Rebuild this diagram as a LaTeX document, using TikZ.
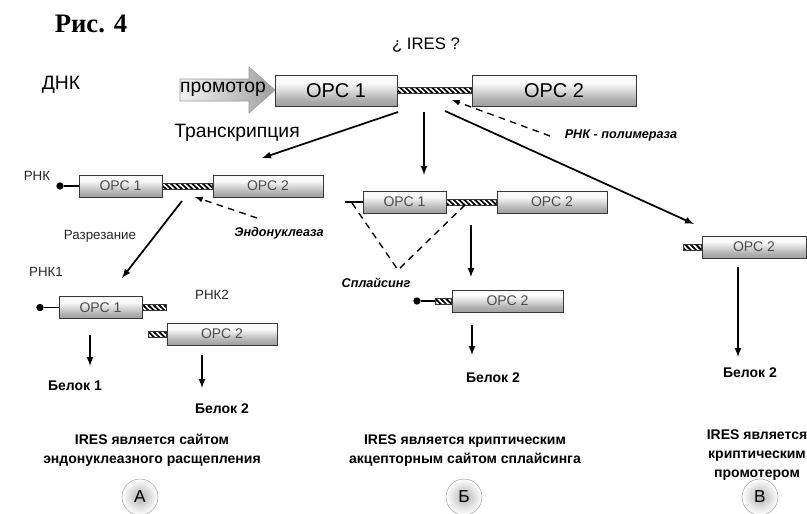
\documentclass[tikz,border=0pt]{standalone}
\usepackage{fontspec}
\setmainfont{Liberation Sans}
\newfontfamily\serifbold{Liberation Serif}
\usepackage{tikz}
\usetikzlibrary{calc}
\usetikzlibrary{arrows}
\usetikzlibrary{patterns}
\usetikzlibrary{positioning}
\usepackage{color}
\definecolor{boxedge}{RGB}{55, 55, 55}
\definecolor{boxdark}{RGB}{120, 120, 120}
\definecolor{boxmid}{RGB}{175, 175, 175}
\definecolor{boxlight}{RGB}{250, 250, 250}
\definecolor{labelgray}{RGB}{75, 75, 75}

% cylinder-like shading of the reading frames
\pgfdeclareverticalshading{orfshade}{100bp}{
  color(0bp)=(boxdark); color(35bp)=(boxmid); color(62bp)=(boxlight);
  color(72bp)=(boxlight); color(100bp)=(boxmid)}

% diagonal hatching of the IRES linker
\pgfdeclarepatternformonly{linkhatch}{\pgfpoint{-1pt}{-1pt}}{\pgfpoint{5pt}{5pt}}{\pgfpoint{4pt}{4pt}}{
  \pgfsetlinewidth{1.3pt}
  \pgfpathmoveto{\pgfpoint{-1pt}{5pt}}
  \pgfpathlineto{\pgfpoint{5pt}{-1pt}}
  \pgfusepath{stroke}
}

\tikzset{
  orfbig/.style   = {rectangle, draw=boxedge, inner sep=0pt, minimum height=23.25pt,
                     shading=orfshade, font=\fontsize{15}{18}\selectfont},
  orfsmall/.style = {rectangle, draw=boxedge, inner sep=0pt, minimum height=16.5pt,
                     shading=orfshade, text=labelgray, font=\fontsize{10.5}{12}\selectfont},
  linker/.style   = {draw=boxedge, line width=0.5pt, preaction={fill=white}, pattern=linkhatch},
  capdot/.style   = {circle, fill=black, inner sep=0pt, minimum size=5.5pt},
  capline/.style  = {line width=1.3pt},
  mainarrow/.style= {-latex, line width=1.3pt},
  dasharrow/.style= {-latex, line width=1pt, dash pattern=on 5pt off 4pt},
  splice/.style   = {line width=1pt, dash pattern=on 5pt off 4pt},
  bigtext/.style  = {inner sep=0pt, font=\fontsize{14.5}{17}\selectfont},
  smalltext/.style= {inner sep=0pt, text=black!85, font=\fontsize{10}{12}\selectfont},
  enzyme/.style   = {inner sep=0pt, font=\fontsize{9.5}{12}\selectfont\bfseries\itshape},
  protein/.style  = {inner sep=0pt, font=\fontsize{10.5}{12}\selectfont\bfseries},
  note/.style     = {inner sep=0pt, align=center, font=\fontsize{10.5}{14.25}\selectfont\bfseries},
  ball/.style     = {circle, draw=gray!70, inner sep=0pt, minimum size=27pt,
                     inner color=gray!60, outer color=white, font=\fontsize{13}{15}\selectfont}
}

\begin{document}
\begin{tikzpicture}[x=0.75pt, y=-0.75pt]
            % Frame to fix the page size:
            \useasboundingbox (0,0) rectangle (807,514);

            % DNA
            \node[inner sep=0pt, font=\serifbold\fontsize{20}{22}\selectfont\bfseries] (fig) at (91,24) {Рис. 4};
            \node[inner sep=0pt, font=\fontsize{12.5}{14}\selectfont]                (ires) at (426,45) {¿ IRES ?};
            \node[bigtext]                                                          (dna)  at ( 61,85) {ДНК};
            \shade[left color=gray!10, right color=gray!75, draw=gray!80]
                 (180,79) -- (249,79) -- (249,67) -- (275,90) -- (249,113) -- (249,101) -- (180,101) -- cycle;
            \node[bigtext]                                  (prom)  at (223,89)   {промотор};
            \node[orfbig,   minimum width=91.5pt]           (dorf1) at (336,90.5) {ОРС 1};
            \node[orfbig,   minimum width=123pt]            (dorf2) at (554,90.5) {ОРС 2};
            \draw[linker] ([yshift=2.25pt]dorf1.east) rectangle ([yshift=-2.25pt]dorf2.west);
            \node[bigtext]                                  (trans) at (237,133)  {Транскрипция};
            \node[enzyme]                                   (pol)   at (621,135)  {РНК - полимераза};
            \coordinate (polS) at (550,136);
            \coordinate (polE) at (452,100);
            \draw[dasharrow] (polS) -- (polE);

            % A: cleavage
            \node[smalltext]                                (rnaA)  at ( 37,176)  {РНК};
            \node[capdot]                                   (dotA)  at ( 60,186)  {};
            \node[orfsmall, minimum width=62.25pt]          (aorf1) at (120.5,186){ОРС 1};
            \node[orfsmall, minimum width=82.5pt]           (aorf2) at (268,186)  {ОРС 2};
            \draw[capline] (dotA) -- (aorf1);
            \draw[linker] ([yshift=2.25pt]aorf1.east) rectangle ([yshift=-2.25pt]aorf2.west);
            \coordinate (trS) at (398,112);
            \coordinate (trE) at (262,158);
            \draw[mainarrow] (trS) -- (trE);
            \coordinate (endoS) at (257,218);
            \coordinate (endoE) at (195,197);
            \draw[dasharrow] (endoS) -- (endoE);
            \node[enzyme]                                   (endo)  at (279,233)  {Эндонуклеаза};
            \node[smalltext]                                (cut)   at (100,236)  {Разрезание};
            \coordinate (cutS) at (182,201);
            \coordinate (cutE) at (122,278);
            \draw[mainarrow] (cutS) -- (cutE);
            \node[smalltext]                                (rna1)  at ( 46,272)  {РНК1};
            \node[smalltext]                                (rna2)  at (212,295)  {РНК2};
            \node[capdot]                                   (dot1)  at ( 40,307.5){};
            \node[orfsmall, minimum width=62.25pt]          (a1orf1)at (100.5,307.5){ОРС 1};
            \coordinate (a1end) at (166,307.5);
            \draw[capline] (dot1) -- (a1orf1);
            \draw[linker] ([yshift=2.25pt]a1orf1.east) rectangle ([yshift=-2.25pt]a1end);
            \coordinate (a2start) at (148,334);
            \node[orfsmall, minimum width=82.5pt]           (a2orf2)at (222,334)  {ОРС 2};
            \draw[linker] ([yshift=2.25pt]a2start) rectangle ([yshift=-2.25pt]a2orf2.west);
            \node[protein]                                  (prot1) at ( 75,386)  {Белок 1};
            \node[protein]                                  (prot2) at (222,409)  {Белок 2};
            \draw[mainarrow] (90,335)  -- (90,366);
            \draw[mainarrow] (202,355) -- (202,388);

            % B: splicing
            \coordinate (bstub) at (345,202);
            \node[orfsmall, minimum width=62.25pt]          (borf1) at (404.5,202){ОРС 1};
            \node[orfsmall, minimum width=82.5pt]           (borf2) at (552,202)  {ОРС 2};
            \draw[capline] (bstub) -- (borf1);
            \draw[linker] ([yshift=2.25pt]borf1.east) rectangle ([yshift=-2.25pt]borf2.west);
            \coordinate (midS) at (424,112);
            \coordinate (midE) at (424,175);
            \draw[mainarrow] (midS) -- (midE);
            \coordinate (spl1) at (352,203);
            \coordinate (splV) at (398,270);
            \coordinate (spl2) at (468,202);
            \draw[splice] (spl1) -- (splV) -- (spl2);
            \node[enzyme]                                   (spl)   at (376,283)  {Сплайсинг};
            \draw[mainarrow] (471,225) -- (471,277);
            \node[capdot]                                   (dotB)  at (417,301)  {};
            \coordinate (blink) at (435,301);
            \node[orfsmall, minimum width=83.25pt]          (borf2s)at (507.5,301){ОРС 2};
            \draw[capline] (dotB) -- (blink);
            \draw[linker] ([yshift=2.25pt]blink) rectangle ([yshift=-2.25pt]borf2s.west);
            \draw[mainarrow] (472,325) -- (472,355);
            \node[protein]                                  (prot3) at (493,378)  {Белок 2};

            % C: cryptic promoter
            \coordinate (rgtS) at (445,111);
            \coordinate (rgtE) at (694,224);
            \draw[mainarrow] (rgtS) -- (rgtE);
            \coordinate (clink) at (683,247);
            \node[orfsmall, minimum width=78pt]             (corf2) at (754,247)  {ОРС 2};
            \draw[linker] ([yshift=2.25pt]clink) rectangle ([yshift=-2.25pt]corf2.west);
            \draw[mainarrow] (738,267) -- (738,357);
            \node[protein]                                  (prot4) at (750,373)  {Белок 2};

            % captions
            \node[note] (noteA) at (152,450.5) {IRES является сайтом\\эндонуклеазного расщепления};
            \node[note] (noteB) at (465,450.5) {IRES является криптическим\\акцепторным сайтом сплайсинга};
            \node[note] (noteC) at (757,455)   {IRES является\\криптическим\\промотером};
            \node[ball] (ballA) at (140,497) {А};
            \node[ball] (ballB) at (464,497) {Б};
            \node[ball] (ballC) at (760,497) {В};
        \end{tikzpicture}
\end{document}
